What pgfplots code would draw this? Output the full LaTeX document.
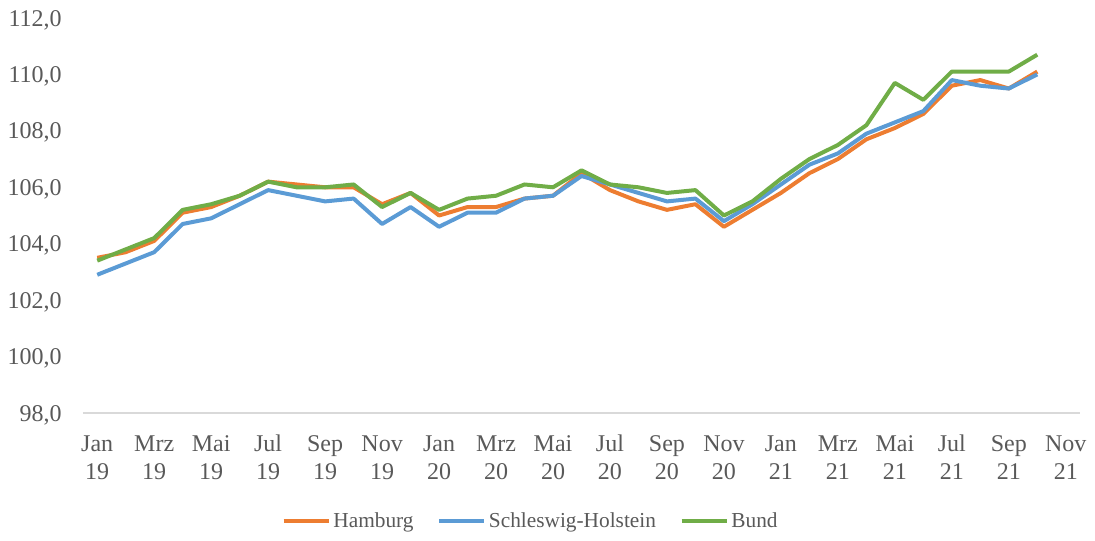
\documentclass[border=0pt]{standalone}
\usepackage{fontspec}
\setmainfont{Liberation Serif}
\usepackage{pgfplots}
\pgfplotsset{compat=1.18}
\newlength\px
\setlength\px{0.75pt}
\definecolor{cOrange}{HTML}{ED7D31}
\definecolor{cBlue}{HTML}{5B9BD5}
\definecolor{cGreen}{HTML}{70AD47}
\definecolor{cText}{HTML}{595959}
\definecolor{cAxis}{HTML}{D9D9D9}
\begin{document}
\begin{tikzpicture}
\path[use as bounding box] (-83\px,-127\px) rectangle (1012\px,413\px);
\begin{axis}[
  at={(0,0)}, anchor=south west,
  scale only axis, width=997\px, height=395\px,
  xmin=-0.5, xmax=34.5, ymin=98, ymax=112,
  axis y line=none,
  axis x line*=bottom,
  x axis line style={draw=cAxis, line width=0.9pt, -},
  xtick={0,2,...,34},
  xticklabels={{\strut Jan\\\strut 19},{\strut Mrz\\\strut 19},{\strut Mai\\\strut 19},{\strut Jul\\\strut 19},{\strut Sep\\\strut 19},{\strut Nov\\\strut 19},{\strut Jan\\\strut 20},{\strut Mrz\\\strut 20},{\strut Mai\\\strut 20},{\strut Jul\\\strut 20},{\strut Sep\\\strut 20},{\strut Nov\\\strut 20},{\strut Jan\\\strut 21},{\strut Mrz\\\strut 21},{\strut Mai\\\strut 21},{\strut Jul\\\strut 21},{\strut Sep\\\strut 21},{\strut Nov\\\strut 21}},
  x tick label style={align=center, font=\fontsize{18}{21}\selectfont, text=cText, anchor=north, inner sep=0pt, yshift=-13.8pt},
  major tick length=0pt,
  ytick={98,100,...,112},
  clip=false,
  legend style={at={(448\px,-108\px)}, anchor=center, draw=none, fill=none,
    font=\fontsize{16}{18}\selectfont, text=cText,
    /tikz/every even column/.append style={column sep=21\px}},
  legend columns=-1,
  legend image code/.code={\draw[#1, line width=3pt] (0pt,0pt) -- (45\px,0pt);},
  every axis plot/.append style={line width=3pt, line join=round, mark=none},
]
% y tick labels as text
\pgfplotsinvokeforeach{98,100,102,104,106,108,110,112}{
  \node[anchor=base east, text=cText, font=\fontsize{18}{21}\selectfont, inner sep=0pt] at (axis cs:-0.5,#1) [xshift=-21\px, yshift=-6.1pt] {#1,0};
}
\addplot[cOrange] coordinates {
(0,103.5)(1,103.7)(2,104.1)(3,105.1)(4,105.3)(5,105.7)(6,106.2)(7,106.1)(8,106.0)(9,106.0)(10,105.4)(11,105.8)
(12,105.0)(13,105.3)(14,105.3)(15,105.6)(16,105.7)(17,106.5)(18,105.9)(19,105.5)(20,105.2)(21,105.4)(22,104.6)(23,105.2)
(24,105.8)(25,106.5)(26,107.0)(27,107.7)(28,108.1)(29,108.6)(30,109.6)(31,109.8)(32,109.5)(33,110.1)};
\addlegendentry{Hamburg}
\addplot[cBlue] coordinates {
(0,102.9)(1,103.3)(2,103.7)(3,104.7)(4,104.9)(5,105.4)(6,105.9)(7,105.7)(8,105.5)(9,105.6)(10,104.7)(11,105.3)
(12,104.6)(13,105.1)(14,105.1)(15,105.6)(16,105.7)(17,106.4)(18,106.1)(19,105.8)(20,105.5)(21,105.6)(22,104.8)(23,105.4)
(24,106.1)(25,106.8)(26,107.2)(27,107.9)(28,108.3)(29,108.7)(30,109.8)(31,109.6)(32,109.5)(33,110.0)};
\addlegendentry{Schleswig-Holstein}
\addplot[cGreen] coordinates {
(0,103.4)(1,103.8)(2,104.2)(3,105.2)(4,105.4)(5,105.7)(6,106.2)(7,106.0)(8,106.0)(9,106.1)(10,105.3)(11,105.8)
(12,105.2)(13,105.6)(14,105.7)(15,106.1)(16,106.0)(17,106.6)(18,106.1)(19,106.0)(20,105.8)(21,105.9)(22,105.0)(23,105.5)
(24,106.3)(25,107.0)(26,107.5)(27,108.2)(28,109.7)(29,109.1)(30,110.1)(31,110.1)(32,110.1)(33,110.7)};
\addlegendentry{Bund}
\end{axis}
\end{tikzpicture}
\end{document}
